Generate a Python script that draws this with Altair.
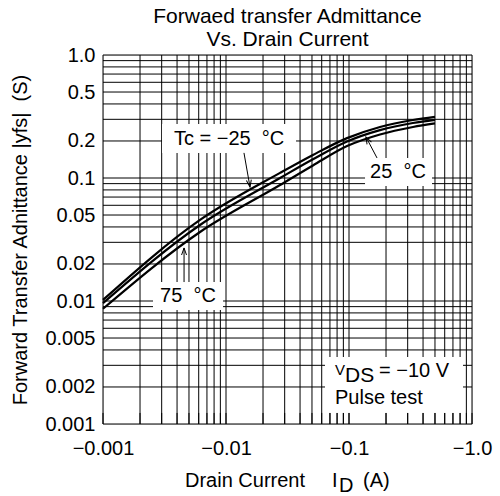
import altair as alt
import pandas as pd

FONT = "Liberation Sans"
NB = "\u00a0"

# ---- data ----
current = [0.001, 0.00615, 0.0275, 0.0509, 0.0964, 0.1786, 0.331, 0.5]      # |I_D| (A)
yfs_m25 = [0.0102, 0.0456, 0.110, 0.154, 0.211, 0.260, 0.296, 0.314]
yfs_25 = [0.0096, 0.0415, 0.100, 0.142, 0.198, 0.245, 0.280, 0.297]
yfs_75 = [0.00865, 0.0364, 0.0877, 0.1265, 0.182, 0.226, 0.260, 0.278]

grid_x = [0.001, 0.002, 0.003, 0.004, 0.005, 0.006, 0.007, 0.008, 0.009,
          0.01, 0.02, 0.03, 0.04, 0.05, 0.06, 0.07, 0.08, 0.09,
          0.1, 0.2, 0.3, 0.4, 0.5, 0.6, 0.7, 0.8, 0.9, 1.0]
grid_y = list(grid_x)

x_tick_vals = [0.001, 0.01, 0.1, 1.0]
x_tick_labels = ["−0.001", "−0.01", "−0.1", "−1.0"]
y_tick_vals = [0.001, 0.002, 0.005, 0.01, 0.02, 0.05, 0.1, 0.2, 0.5, 1.0]
y_tick_labels = ["0.001", "0.002", "0.005", "0.01", "0.02", "0.05", "0.1", "0.2", "0.5", "1.0"]

# annotation labels (data-space anchors)
ann_text = ["Tc = −25" + NB + NB + "°C", "25" + NB + NB + "°C", "75" + NB + NB + "°C"]
ann_x = [0.0106, 0.25, 0.00491]
ann_y = [0.2075, 0.112, 0.011]

box_x1 = [0.00302, 0.135, 0.00255, 0.0638]
box_x2 = [0.0371, 0.473, 0.00946, 0.845]
box_y1 = [0.160, 0.0861, 0.00845, 0.00123]
box_y2 = [0.275, 0.1455, 0.01426, 0.00351]

arrow_x1 = [0.0140, 0.169, 0.00456]
arrow_y1 = [0.160, 0.1455, 0.01426]
arrow_x2 = [0.01567, 0.1374, 0.00456]
arrow_y2 = [0.0845, 0.2155, 0.027]
arrow_ang = [170.8, 332.4, 0.0]

stub_y1 = 0.001
stub_y2 = 0.00123


def label_expr(vals, labels):
    expr = "''"
    for v, l in reversed(list(zip(vals, labels))):
        expr = f"abs(datum.value - {v}) < {v * 1e-3} ? '{l}' : ({expr})"
    return expr


xs = alt.Scale(type="log", domain=[0.001, 1.0], nice=False)
ys = alt.Scale(type="log", domain=[0.001, 1.0], nice=False)

x_axis = alt.Axis(values=x_tick_vals, labelExpr=label_expr(x_tick_vals, x_tick_labels),
                  title=None, grid=False, ticks=False, domain=False, labelFlush=False,
                  labelOverlap=False, labelFontSize=20, labelFont=FONT, labelColor="black",
                  labelPadding=14)
y_axis = alt.Axis(values=y_tick_vals, labelExpr=label_expr(y_tick_vals, y_tick_labels),
                  title="Forward Transfer Adnittance |yfs|" + NB + NB + "(S)",
                  grid=False, ticks=False, domain=False, labelFlush=False,
                  labelOverlap=False, labelFontSize=20, labelFont=FONT, labelColor="black",
                  labelPadding=8, titleFont=FONT, titleFontSize=20, titleFontWeight="normal",
                  titleColor="black", titlePadding=14)


def X(field):
    return alt.X(field, scale=xs, axis=x_axis)


def Y(field):
    return alt.Y(field, scale=ys, axis=y_axis)


vgrid = alt.Chart(pd.DataFrame({"gx": grid_x})).mark_rule(color="black", strokeWidth=1).encode(
    x=X("gx:Q"))
hgrid = alt.Chart(pd.DataFrame({"gy": grid_y})).mark_rule(color="black", strokeWidth=1).encode(
    y=Y("gy:Q"))

rows = []
for name, vals in [("-25", yfs_m25), ("25", yfs_25), ("75", yfs_75)]:
    for c, v in zip(current, vals):
        rows.append({"series": name, "id": c, "yfs": v})
curves = alt.Chart(pd.DataFrame(rows)).mark_line(
    color="black", strokeWidth=2.2, interpolate="monotone").encode(
    x=X("id:Q"), y=Y("yfs:Q"), detail="series:N")

boxes = alt.Chart(pd.DataFrame({"x1": box_x1, "x2": box_x2, "y1": box_y1, "y2": box_y2})).mark_rect(
    color="white").encode(x=X("x1:Q"), x2="x2:Q", y=Y("y1:Q"), y2="y2:Q")

ann = alt.Chart(pd.DataFrame({"x": ann_x, "y": ann_y, "t": ann_text})).mark_text(
    font=FONT, fontSize=20, color="black", align="center", baseline="middle").encode(
    x=X("x:Q"), y=Y("y:Q"), text="t:N")

arrows = alt.Chart(pd.DataFrame({"x1": arrow_x1, "y1": arrow_y1, "x2": arrow_x2, "y2": arrow_y2})).mark_rule(
    color="black", strokeWidth=1).encode(x=X("x1:Q"), x2="x2:Q", y=Y("y1:Q"), y2="y2:Q")

heads = alt.Chart(pd.DataFrame({"x": arrow_x2, "y": arrow_y2, "a": arrow_ang})).mark_point(
    shape="M-0.35,1L0,0L0.35,1", filled=False, stroke="black", strokeWidth=1, size=200, opacity=1).encode(
    x=X("x:Q"), y=Y("y:Q"), angle=alt.Angle("a:Q", scale=None))

stubs = alt.Chart(pd.DataFrame({"gx": grid_x, "s1": [stub_y1] * len(grid_x),
                                "s2": [stub_y2] * len(grid_x)})).mark_rule(
    color="black", strokeWidth=1).encode(x=X("gx:Q"), y=Y("s1:Q"), y2="s2:Q")

# VDS / pulse test note
note_df = pd.DataFrame({"x": [0.0769], "y": [0.0027], "y2": [0.00163]})
vds_v = alt.Chart(note_df).mark_text(
    font=FONT, fontSize=15, color="black", align="left", baseline="middle", dy=-1).encode(
    x=X("x:Q"), y=Y("y:Q"), text=alt.value("V"))
vds_ds = alt.Chart(note_df).mark_text(
    font=FONT, fontSize=21, color="black", align="left", baseline="middle", dx=10, dy=5).encode(
    x=X("x:Q"), y=Y("y:Q"), text=alt.value("DS"))
vds_eq = alt.Chart(note_df).mark_text(
    font=FONT, fontSize=20, color="black", align="left", baseline="middle", dx=44).encode(
    x=X("x:Q"), y=Y("y:Q"), text=alt.value("= −10 V"))
pulse = alt.Chart(note_df).mark_text(
    font=FONT, fontSize=20, color="black", align="left", baseline="middle").encode(
    x=X("x:Q"), y=Y("y2:Q"), text=alt.value("Pulse test"))

# x-axis title with subscript
one = pd.DataFrame({"a": [0]})
xt_main = alt.Chart(one).mark_text(
    font=FONT, fontSize=20, color="black", align="left", baseline="alphabetic").encode(
    x=alt.value(82), y=alt.value(432), text=alt.value("Drain Current"))
xt_i = alt.Chart(one).mark_text(
    font=FONT, fontSize=20, color="black", align="left", baseline="alphabetic").encode(
    x=alt.value(229), y=alt.value(432), text=alt.value("I"))
xt_d = alt.Chart(one).mark_text(
    font=FONT, fontSize=20, color="black", align="left", baseline="alphabetic").encode(
    x=alt.value(236), y=alt.value(437), text=alt.value("D"))
xt_a = alt.Chart(one).mark_text(
    font=FONT, fontSize=20, color="black", align="left", baseline="alphabetic").encode(
    x=alt.value(260), y=alt.value(432), text=alt.value("(A)"))

chart = alt.layer(
    vgrid, hgrid, curves, boxes, ann, arrows, heads, stubs,
    vds_v, vds_ds, vds_eq, pulse, xt_main, xt_i, xt_d, xt_a
).properties(
    width=369, height=369,
    title=alt.TitleParams(text=["Forwaed transfer Admittance", "Vs. Drain Current"],
                          font=FONT, fontSize=21, fontWeight="normal", color="black",
                          anchor="middle", lineHeight=23, offset=6, dy=11),
    autosize=alt.AutoSizeParams(type="none"),
    padding={"left": 103, "top": 55, "right": 28, "bottom": 72},
).configure_view(stroke="black", strokeWidth=1).configure(background="white")

chart.save("out.html", embed_options={"renderer": "svg", "actions": False})
